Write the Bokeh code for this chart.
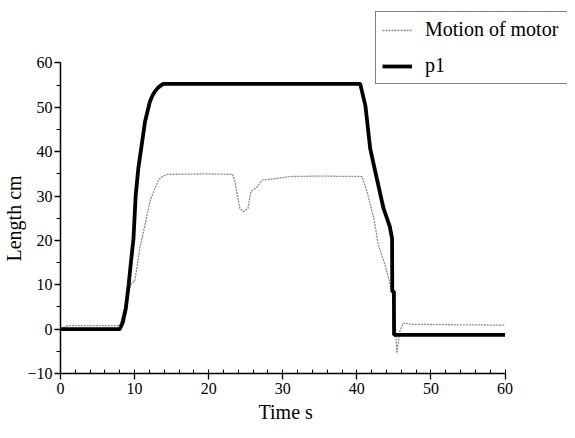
from bokeh.plotting import figure
from bokeh.models import Range1d, SingleIntervalTicker, Legend, LegendItem, Title
from bokeh.embed import file_html
from bokeh.resources import INLINE

# Data
motor_t = [0, 0.5, 1.0, 8.0, 8.6, 9.2, 9.6, 10.0, 10.3, 10.7, 11.4, 12.1, 12.7, 13.3, 13.9, 14.5,
           20.0, 23.2, 23.5, 23.8, 24.2, 24.7, 25.3, 25.7, 26.5, 27.2, 28.9, 30.9, 35.0, 40.7,
           41.4, 42.3, 42.9, 43.8, 44.5, 44.9, 45.15, 45.4, 45.8, 46.25, 47.5, 52.0, 60.0]
motor_y = [0, 0.4, 0.8, 0.8, 4.5, 8.5, 10.4, 10.8, 13.7, 18.2, 23.5, 29.0, 31.5, 33.8, 34.6, 34.9,
           35.0, 34.9, 33.5, 30.9, 27.2, 26.5, 27.2, 31.0, 32.0, 33.6, 33.9, 34.4, 34.5, 34.4,
           30.9, 24.9, 19.0, 14.5, 10.0, 7.0, 2.5, -5.4, -0.5, 1.35, 1.1, 1.0, 0.9]

p1_t = [0, 8.0, 8.4, 8.8, 9.2, 9.5, 9.85, 10.15, 10.5, 10.95, 11.4, 12.05, 12.4, 12.75, 13.2, 13.85,
        40.45, 41.15, 41.8, 42.7, 43.6, 44.45, 44.75, 44.78, 45.0, 45.02, 60.0]
p1_y = [0, 0, 1.5, 4.5, 10.0, 15.0, 20.4, 30.2, 36.2, 41.4, 46.7, 51.2, 52.6, 53.6, 54.5, 55.3,
        55.3, 50.4, 40.7, 33.9, 27.2, 23.1, 20.4, 8.5, 8.5, -1.3, -1.3]

x_bounds = (0, 60)
y_bounds = (-10, 60)
x_ticks_interval = 10
y_ticks_interval = 10
x_label = "Time s"
y_label = "Length cm"

FONT = "Liberation Serif"

# frame extends past the axes so that the legend (top right) is not clipped
p = figure(width=567, height=430, output_backend="svg", toolbar_location=None,
           x_range=Range1d(0, 68.43), y_range=Range1d(-10, 74.09),
           min_border_left=53, min_border_right=0, min_border_top=0, min_border_bottom=57)

p.outline_line_color = None
p.xgrid.visible = False
p.ygrid.visible = False
p.background_fill_color = "white"
p.border_fill_color = "white"

r_motor = p.line(motor_t, motor_y, line_color="#8a8a8a", line_width=1.3, line_dash="2 1")
r_p1 = p.line(p1_t, p1_y, line_color="black", line_width=3.8)

p.xaxis.ticker = SingleIntervalTicker(interval=x_ticks_interval, num_minor_ticks=5)
p.yaxis.ticker = SingleIntervalTicker(interval=y_ticks_interval, num_minor_ticks=2)
p.xaxis.bounds = x_bounds
p.yaxis.bounds = y_bounds

for ax in (p.xaxis[0], p.yaxis[0]):
    ax.axis_line_width = 1.5
    ax.axis_line_color = "black"
    ax.major_tick_line_color = "black"
    ax.minor_tick_line_color = "black"
    ax.major_tick_line_width = 1.3
    ax.minor_tick_line_width = 1
    ax.major_label_text_font = FONT
    ax.major_label_text_font_size = "16px"
    ax.major_label_text_color = "black"

p.xaxis.major_tick_out = 6
p.xaxis.major_tick_in = 0
p.xaxis.minor_tick_in = 4
p.xaxis.minor_tick_out = 0
p.xaxis.major_label_standoff = 3

p.yaxis.major_tick_out = 6
p.yaxis.major_tick_in = 0
p.yaxis.minor_tick_out = 4
p.yaxis.minor_tick_in = 0
p.yaxis.major_label_standoff = 2

# axis titles, centred on the drawn axes (not on the widened frame)
xt = Title(text=x_label, align="left", offset=198, standoff=5,
           text_font=FONT, text_font_size="20px", text_font_style="normal", text_color="black")
p.add_layout(xt, "below")
yt = Title(text=y_label, align="left", offset=112, standoff=0,
           text_font=FONT, text_font_size="20px", text_font_style="normal", text_color="black")
p.add_layout(yt, "left")

legend = Legend(items=[LegendItem(label="Motion of motor", renderers=[r_motor]),
                       LegendItem(label="p1", renderers=[r_p1])],
                location=(315, 289))
legend.label_text_font = FONT
legend.label_text_font_size = "20px"
legend.label_text_color = "black"
legend.border_line_color = "black"
legend.border_line_width = 1.5
legend.padding = 6
legend.spacing = 13
legend.label_height = 22
legend.glyph_height = 22
legend.glyph_width = 30
legend.label_width = 160
legend.label_standoff = 13
legend.margin = 0
legend.background_fill_alpha = 1.0
p.add_layout(legend, "center")

open("out.html", "w").write(file_html(p, INLINE))
